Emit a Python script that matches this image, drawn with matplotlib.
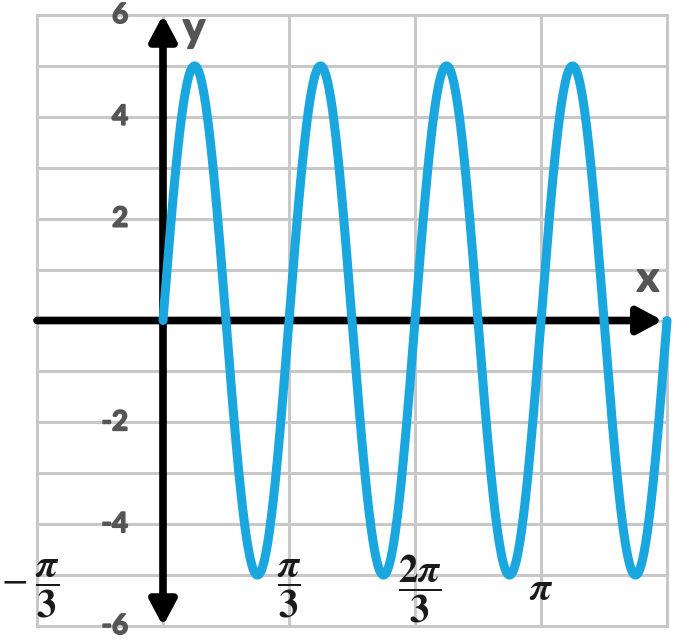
import numpy as np
import matplotlib
matplotlib.use("Agg")
from matplotlib import pyplot as plt
from matplotlib import patheffects

# curve parameters: peaks at +/-5, period pi/3
amplitude = 5
omega = 6
x_start, x_end = 0, 4 * np.pi / 3

y_ticks = [6, 4, 2, -2, -4, -6]
y_tick_labels = ["6", "4", "2", "-2", "-4", "-6"]
x_tick_vals = [-np.pi / 3, np.pi / 3, 2 * np.pi / 3, np.pi]
x_tick_labels = [r"$-\;\dfrac{\boldsymbol{\pi}}{\mathbf{3}}$",
                 r"$\dfrac{\boldsymbol{\pi}}{\mathbf{3}}$",
                 r"$\dfrac{\mathbf{2}\boldsymbol{\pi}}{\mathbf{3}}$",
                 r"$\boldsymbol{\pi}$"]

plt.rcParams['mathtext.fontset'] = 'stix'

fig = plt.figure(figsize=(6.85, 6.42), dpi=100)
ax = fig.add_axes([37 / 685, 16 / 642, 630 / 685, 611 / 642])
ax.set_xlim(-np.pi / 3, 4 * np.pi / 3)
ax.set_ylim(-6, 6)
ax.axis('off')

grid_color = '#c8c8c8'
for gx in np.arange(-1, 5) * np.pi / 3:
    ax.axvline(gx, color=grid_color, lw=2.2, clip_on=False, zorder=1)
for gy in range(-6, 7):
    ax.axhline(gy, color=grid_color, lw=2.2, clip_on=False, zorder=1)

# axes arrows
ax.annotate('', xy=(4 * np.pi / 3 - 0.035, 0), xytext=(-np.pi / 3, 0),
            arrowprops=dict(arrowstyle='-|>,head_length=15,head_width=8',
                            color='black', lw=5.5, shrinkA=0, shrinkB=0,
                            mutation_scale=1),
            annotation_clip=False, zorder=3)
ax.annotate('', xy=(0, 6), xytext=(0, -6),
            arrowprops=dict(arrowstyle='<|-|>,head_length=15,head_width=8',
                            color='black', lw=5.5, shrinkA=0, shrinkB=0,
                            mutation_scale=1),
            annotation_clip=False, zorder=3)

x = np.linspace(x_start, x_end, 2000)
ax.plot(x, amplitude * np.sin(omega * x), color='#1aa7e0', lw=6.5,
        solid_capstyle='round', zorder=4, clip_on=False)

gray = '#555555'
thick = [patheffects.withStroke(linewidth=1.2, foreground=gray)]
lab_font = dict(family=['Lato', 'DejaVu Sans'], weight='bold', color=gray,
                path_effects=thick)
for v, t in zip(y_ticks, y_tick_labels):
    ax.text(-0.29, v, t, ha='right', va='center', fontsize=20, **lab_font)

x_offsets = [-0.055, 0, 0.04, 0]
for v, t, dx in zip(x_tick_vals, x_tick_labels, x_offsets):
    ax.text(v + dx, -5.28, t, ha='center', va='center', fontsize=28,
            color='#1a1a1a')

ax.text(0.258, 5.72, 'y', ha='center', va='center', fontsize=30, **lab_font)
ax.text(4.03, 0.81, 'x', ha='center', va='center', fontsize=30, **lab_font)

plt.savefig('out.png', dpi=100)
